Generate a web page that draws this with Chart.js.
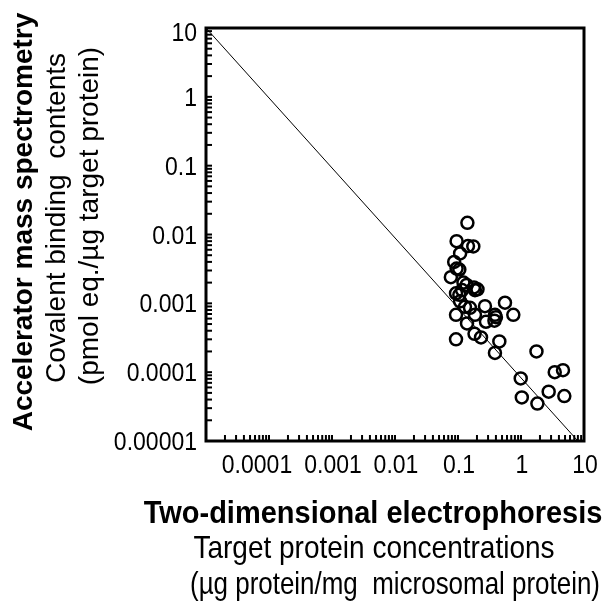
<!DOCTYPE html>
<html>
<head>
<meta charset="utf-8">
<script src="https://cdn.jsdelivr.net/npm/chart.js@4.4.0/dist/chart.umd.min.js"></script>
<style>
  html, body { margin: 0; padding: 0; background: #fff; }
  #wrap { width: 611px; height: 608px; }
</style>
</head>
<body>
<div id="wrap"><canvas id="AmsChart"></canvas></div>
<script>
// 2-DE concentration (x) vs AMS covalent binding (y)
const proteinConc = [
  0.141, 0.095, 0.144, 0.175, 0.108, 0.087, 0.095, 0.105, 0.077, 0.122,
  0.137, 0.179, 0.204, 0.186, 0.093, 0.116, 0.105, 0.108, 0.155, 0.129,
  0.268, 0.557, 0.093, 0.186, 0.386, 0.40, 0.755, 0.139, 0.278, 0.379,
  0.093, 0.183, 0.232, 0.453, 0.386, 1.76, 0.99, 3.43, 4.64, 1.03,
  1.82, 2.75, 4.87
];
const bindingContent = [
  0.0148, 0.0080, 0.0068, 0.0067, 0.0053, 0.0040, 0.0032, 0.0031, 0.0024, 0.0020,
  0.00185, 0.0017, 0.0016, 0.00155, 0.0014, 0.00156, 0.00133, 0.00107, 0.00086, 0.00089,
  0.00091, 0.00102, 0.00068, 0.00068, 0.00068, 0.00063, 0.00068, 0.00051, 0.00054, 0.00056,
  0.00030, 0.00036, 0.00032, 0.00028, 0.00019, 0.00020, 0.000081, 0.00010, 0.000107, 0.000043,
  0.000035, 0.000052, 0.000045
];
const fitX = [0.00001, 8];
const fitY = [10, 0.00001];
const xTickLabels = ['0.0001', '0.001', '0.01', '0.1', '1', '10'];
const yTickLabels = ['0.00001', '0.0001', '0.001', '0.01', '0.1', '1', '10'];

const FAM = "'Liberation Sans', Arial, sans-serif";
Chart.defaults.font.family = FAM;
Chart.defaults.color = '#000';

function logTicks(scale) {
  const ticks = [];
  const lo = Math.round(Math.log10(scale.min));
  const hi = Math.round(Math.log10(scale.max));
  for (let e = lo; e < hi; e++) {
    for (let m = 1; m < 10; m++) ticks.push({ value: m * Math.pow(10, e) });
  }
  ticks.push({ value: Math.pow(10, hi) });
  scale.ticks = ticks;
}

// draw text slightly taller than the font's natural shape, like the scan
function tallText(ctx, text, x, y, align, maxW) {
  ctx.save();
  ctx.translate(x, y);
  ctx.scale(1, 1.09);
  ctx.textAlign = align;
  ctx.textBaseline = 'alphabetic';
  if (maxW) ctx.fillText(text, 0, 0, maxW); else ctx.fillText(text, 0, 0);
  ctx.restore();
}

const frameAndTitles = {
  id: 'frameAndTitles',
  afterDraw(chart) {
    const { ctx, chartArea: a, scales } = chart;
    ctx.save();
    ctx.strokeStyle = '#000';
    ctx.fillStyle = '#000';
    ctx.lineWidth = 2;
    // tick marks point into the plot
    scales.x.ticks.forEach(t => {
      const px = scales.x.getPixelForValue(t.value);
      ctx.beginPath(); ctx.moveTo(px, a.bottom); ctx.lineTo(px, a.bottom - 6); ctx.stroke();
    });
    scales.y.ticks.forEach(t => {
      const py = scales.y.getPixelForValue(t.value);
      ctx.beginPath(); ctx.moveTo(a.left, py); ctx.lineTo(a.left + 6, py); ctx.stroke();
    });
    ctx.lineWidth = 3;
    ctx.strokeRect(a.left, a.top, a.width, a.height);

    // tick labels
    ctx.font = '23px ' + FAM;
    xTickLabels.forEach((l, i) => {
      const px = scales.x.getPixelForValue(Number(l)) + (i === 0 ? -12 : 1);
      tallText(ctx, l, px, a.bottom + 32, 'center');
    });
    yTickLabels.forEach((l, i) => {
      const py = scales.y.getPixelForValue(Number(l));
      const nudge = i === yTickLabels.length - 1 ? 4 : 0;
      tallText(ctx, l, a.left - 9, py + 9 + nudge, 'right');
    });

    // axis titles
    ctx.font = 'bold 29px ' + FAM;
    tallText(ctx, 'Two-dimensional electrophoresis', 373, 523, 'center', 460);
    ctx.font = '28px ' + FAM;
    tallText(ctx, 'Target protein concentrations', 374, 558, 'center', 365);
    tallText(ctx, '(\u00b5g protein/mg  microsomal protein)', 395, 594, 'center', 410);

    const yLines = [
      ['bold 28px ' + FAM, 'Accelerator mass spectrometry', 32, 222, 423],
      ['28px ' + FAM, 'Covalent binding  contents', 65, 218, 330],
      ['28px ' + FAM, '(pmol eq./\u00b5g target protein)', 98, 216, 350]
    ];
    yLines.forEach(([font, text, x, y, w]) => {
      ctx.save();
      ctx.translate(x, y);
      ctx.rotate(-Math.PI / 2);
      ctx.font = font;
      ctx.textAlign = 'center';
      ctx.textBaseline = 'alphabetic';
      ctx.fillText(text, 0, 0, w);
      ctx.restore();
    });
    ctx.restore();
  }
};

new Chart(document.getElementById('AmsChart'), {
  type: 'scatter',
  data: {
    datasets: [
      {
        label: 'proteins',
        data: proteinConc.map((x, i) => ({ x, y: bindingContent[i] })),
        pointRadius: 6,
        pointBorderWidth: 2.5,
        pointBorderColor: '#000',
        pointBackgroundColor: 'rgba(0,0,0,0)'
      },
      {
        label: 'fit',
        data: fitX.map((x, i) => ({ x, y: fitY[i] })),
        showLine: true,
        borderColor: '#000',
        borderWidth: 1,
        pointRadius: 0
      }
    ]
  },
  options: {
    responsive: true,
    maintainAspectRatio: false,
    animation: false,
    layout: { padding: { top: 28, right: 27, left: 0, bottom: 0 } },
    plugins: { legend: { display: false }, tooltip: { enabled: false } },
    scales: {
      x: {
        type: 'logarithmic',
        min: 0.00001,
        max: 10,
        afterBuildTicks: logTicks,
        afterFit: s => { s.height = 167; },
        grid: { display: false, drawTicks: false },
        border: { display: false },
        ticks: { display: false, autoSkip: false }
      },
      y: {
        type: 'logarithmic',
        min: 0.00001,
        max: 10,
        afterBuildTicks: logTicks,
        afterFit: s => { s.width = 206; },
        grid: { display: false, drawTicks: false },
        border: { display: false },
        ticks: { display: false, autoSkip: false }
      }
    }
  },
  plugins: [frameAndTitles]
});
</script>
</body>
</html>
